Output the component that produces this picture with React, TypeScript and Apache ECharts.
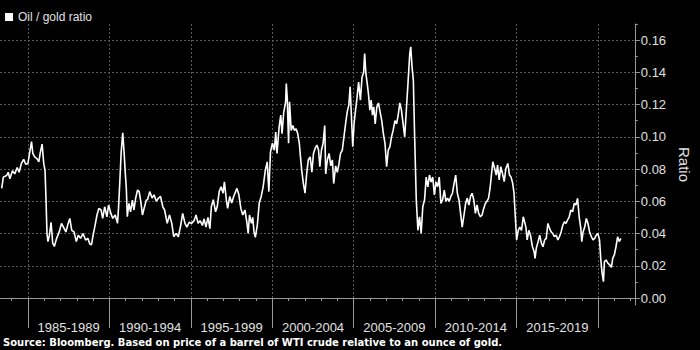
import React, { useEffect, useRef } from "react";
import * as echarts from "echarts";

// Decimal years of each observation
const years: number[] = [
  1983.39, 1983.49, 1983.69, 1983.79, 1983.89, 1984.05, 1984.19, 1984.34, 1984.46, 1984.6, 1984.74, 1984.86,
  1985.0, 1985.1, 1985.22, 1985.3, 1985.41, 1985.55, 1985.67, 1985.75, 1985.87, 1985.97, 1986.05, 1986.11,
  1986.17, 1986.23, 1986.32, 1986.42, 1986.52, 1986.62, 1986.76, 1986.92, 1987.06, 1987.18, 1987.33, 1987.47,
  1987.57, 1987.69, 1987.83, 1987.97, 1988.09, 1988.23, 1988.38, 1988.54, 1988.68, 1988.8, 1988.9, 1989.0,
  1989.1, 1989.24, 1989.35, 1989.49, 1989.59, 1989.71, 1989.85, 1989.95, 1990.09, 1990.21, 1990.36, 1990.5,
  1990.56, 1990.64, 1990.72, 1990.82, 1990.9, 1990.98, 1991.04, 1991.1, 1991.2, 1991.3, 1991.41, 1991.51,
  1991.61, 1991.73, 1991.83, 1991.93, 1992.03, 1992.13, 1992.27, 1992.34, 1992.48, 1992.62, 1992.74, 1992.88,
  1993.02, 1993.14, 1993.28, 1993.39, 1993.55, 1993.69, 1993.83, 1993.95, 1994.09, 1994.23, 1994.36, 1994.5,
  1994.64, 1994.76, 1994.9, 1995.04, 1995.2, 1995.32, 1995.45, 1995.57, 1995.71, 1995.81, 1995.93, 1996.05,
  1996.17, 1996.26, 1996.38, 1996.52, 1996.62, 1996.74, 1996.86, 1996.98, 1997.06, 1997.18, 1997.26, 1997.39,
  1997.51, 1997.63, 1997.75, 1997.83, 1997.95, 1998.07, 1998.19, 1998.32, 1998.44, 1998.52, 1998.6, 1998.72,
  1998.8, 1998.88, 1998.96, 1999.08, 1999.2, 1999.32, 1999.44, 1999.57, 1999.69, 1999.79, 1999.89, 2000.01,
  2000.13, 2000.21, 2000.29, 2000.42, 2000.52, 2000.6, 2000.7, 2000.82, 2000.86, 2000.92, 2001.0, 2001.06,
  2001.16, 2001.26, 2001.36, 2001.46, 2001.56, 2001.66, 2001.73, 2001.81, 2001.91, 2002.01, 2002.11, 2002.21,
  2002.33, 2002.43, 2002.53, 2002.64, 2002.74, 2002.84, 2002.92, 2003.02, 2003.12, 2003.22, 2003.28, 2003.38,
  2003.49, 2003.59, 2003.69, 2003.77, 2003.89, 2003.99, 2004.09, 2004.19, 2004.3, 2004.4, 2004.5, 2004.6,
  2004.7, 2004.78, 2004.86, 2004.94, 2005.02, 2005.1, 2005.2, 2005.3, 2005.41, 2005.51, 2005.61, 2005.67,
  2005.75, 2005.83, 2005.91, 2005.99, 2006.07, 2006.15, 2006.23, 2006.32, 2006.42, 2006.52, 2006.62, 2006.72,
  2006.82, 2006.92, 2007.02, 2007.12, 2007.22, 2007.32, 2007.42, 2007.53, 2007.63, 2007.73, 2007.83, 2007.93,
  2008.03, 2008.13, 2008.23, 2008.33, 2008.44, 2008.5, 2008.58, 2008.66, 2008.74, 2008.84, 2008.94, 2009.04,
  2009.14, 2009.24, 2009.35, 2009.45, 2009.55, 2009.65, 2009.75, 2009.85, 2009.95, 2010.05, 2010.15, 2010.25,
  2010.35, 2010.46, 2010.56, 2010.66, 2010.76, 2010.86, 2010.96, 2011.06, 2011.16, 2011.26, 2011.36, 2011.46,
  2011.56, 2011.66, 2011.77, 2011.87, 2011.97, 2012.07, 2012.17, 2012.27, 2012.37, 2012.47, 2012.57, 2012.67,
  2012.78, 2012.88, 2012.98, 2013.08, 2013.18, 2013.28, 2013.38, 2013.48, 2013.54, 2013.65, 2013.75, 2013.83,
  2013.93, 2014.03, 2014.13, 2014.24, 2014.34, 2014.46, 2014.56, 2014.66, 2014.76, 2014.84, 2014.92, 2015.0,
  2015.1, 2015.2, 2015.3, 2015.41, 2015.57, 2015.65, 2015.75, 2015.85, 2015.97, 2016.07, 2016.13, 2016.21,
  2016.32, 2016.42, 2016.52, 2016.62, 2016.72, 2016.82, 2016.92, 2017.02, 2017.12, 2017.22, 2017.32, 2017.43,
  2017.53, 2017.63, 2017.73, 2017.83, 2017.93, 2018.03, 2018.13, 2018.23, 2018.33, 2018.44, 2018.54, 2018.64,
  2018.74, 2018.84, 2018.94, 2019.0, 2019.08, 2019.18, 2019.28, 2019.38, 2019.48, 2019.59, 2019.69, 2019.79,
  2019.89, 2019.99, 2020.09, 2020.17, 2020.25, 2020.33, 2020.39, 2020.49, 2020.61, 2020.72, 2020.82, 2020.9,
  2021.0, 2021.1, 2021.2, 2021.3, 2021.4,
];

// Oil / gold ratio at each observation
const ratio: number[] = [
  0.068, 0.075, 0.076, 0.078, 0.074, 0.079, 0.077, 0.081, 0.078, 0.0835, 0.086, 0.083,
  0.0835, 0.0897, 0.097, 0.0897, 0.0876, 0.0865, 0.0845, 0.0897, 0.0955, 0.0835, 0.079, 0.061,
  0.04, 0.035, 0.039, 0.047, 0.034, 0.032, 0.037, 0.041, 0.0463, 0.044, 0.041, 0.0463,
  0.0494, 0.042, 0.041, 0.035, 0.039, 0.037, 0.04, 0.036, 0.037, 0.0335, 0.033, 0.039,
  0.044, 0.0515, 0.0556, 0.0546, 0.0494, 0.0566, 0.0504, 0.0577, 0.0525, 0.0494, 0.0515, 0.0463,
  0.0556, 0.072, 0.0897, 0.1025, 0.0907, 0.077, 0.068, 0.0504, 0.0587, 0.0535, 0.0608, 0.0546,
  0.0618, 0.067, 0.066, 0.0597, 0.0515, 0.0556, 0.0608, 0.061, 0.066, 0.062, 0.064, 0.06,
  0.062, 0.063, 0.0566, 0.0546, 0.0463, 0.0515, 0.0463, 0.038, 0.0401, 0.038, 0.044, 0.0525,
  0.0463, 0.044, 0.047, 0.0463, 0.048, 0.0515, 0.0463, 0.048, 0.045, 0.049, 0.044, 0.05,
  0.043, 0.0566, 0.061, 0.0535, 0.0566, 0.066, 0.069, 0.065, 0.072, 0.061, 0.0556, 0.063,
  0.059, 0.063, 0.066, 0.068, 0.064, 0.0556, 0.0515, 0.0546, 0.047, 0.0401, 0.0515, 0.0463,
  0.05, 0.041, 0.0376, 0.045, 0.059, 0.063, 0.069, 0.079, 0.0845, 0.066, 0.0907, 0.096,
  0.0917, 0.103, 0.0897, 0.106, 0.1135, 0.102, 0.115, 0.1217, 0.133, 0.124, 0.096, 0.1217,
  0.104, 0.107, 0.104, 0.105, 0.102, 0.096, 0.0876, 0.079, 0.071, 0.065, 0.077, 0.0856,
  0.0876, 0.078, 0.0897, 0.093, 0.0949, 0.0918, 0.0815, 0.0918, 0.096, 0.107, 0.077, 0.0856,
  0.0897, 0.082, 0.0856, 0.071, 0.082, 0.078, 0.083, 0.0897, 0.0918, 0.1, 0.108, 0.1155,
  0.1197, 0.131, 0.1124, 0.0938, 0.108, 0.1155, 0.124, 0.134, 0.1228, 0.137, 0.14, 0.1517,
  0.139, 0.133, 0.126, 0.1166, 0.1228, 0.1135, 0.1186, 0.108, 0.1186, 0.121, 0.1155, 0.11,
  0.102, 0.096, 0.0815, 0.0918, 0.0938, 0.1, 0.104, 0.11, 0.108, 0.1135, 0.121, 0.1166,
  0.108, 0.1, 0.1166, 0.133, 0.1517, 0.1558, 0.1434, 0.135, 0.1, 0.061, 0.042, 0.0504,
  0.04, 0.0566, 0.061, 0.075, 0.069, 0.0763, 0.072, 0.075, 0.064, 0.072, 0.069, 0.075,
  0.0587, 0.061, 0.067, 0.06, 0.062, 0.06, 0.063, 0.065, 0.071, 0.0763, 0.065, 0.061,
  0.0525, 0.044, 0.0515, 0.0587, 0.062, 0.0577, 0.063, 0.065, 0.061, 0.0525, 0.0577, 0.0525,
  0.0504, 0.0515, 0.0556, 0.0587, 0.06, 0.062, 0.069, 0.079, 0.0845, 0.0804, 0.0763, 0.0825,
  0.0732, 0.0815, 0.0773, 0.0722, 0.0804, 0.0835, 0.0763, 0.075, 0.0711, 0.065, 0.0504, 0.036,
  0.042, 0.044, 0.042, 0.0504, 0.044, 0.036, 0.042, 0.039, 0.0318, 0.029, 0.0246, 0.031,
  0.035, 0.039, 0.034, 0.0318, 0.036, 0.037, 0.0463, 0.0432, 0.041, 0.04, 0.038, 0.039,
  0.036, 0.038, 0.041, 0.045, 0.0473, 0.0463, 0.0484, 0.0504, 0.0546, 0.0535, 0.0587, 0.0577,
  0.0618, 0.0504, 0.0432, 0.035, 0.041, 0.044, 0.0494, 0.0463, 0.041, 0.038, 0.036, 0.037,
  0.039, 0.04, 0.036, 0.0236, 0.0153, 0.0101, 0.0226, 0.0236, 0.0215, 0.0205, 0.019, 0.0246,
  0.0267, 0.0318, 0.038, 0.035, 0.037,
];

const periodStarts: number[] = [1985, 1990, 1995, 2000, 2005, 2010, 2015];
const periodBoundaries: number[] = [1985, 1990, 1995, 2000, 2005, 2010, 2015, 2020];
const yearTicks: number[] = [
  1984, 1985, 1986, 1987, 1988, 1989, 1990, 1991, 1992, 1993, 1994, 1995, 1996, 1997, 1998, 1999, 2000,
  2001, 2002, 2003, 2004, 2005, 2006, 2007, 2008, 2009, 2010, 2011, 2012, 2013, 2014, 2015, 2016, 2017,
  2018, 2019, 2020, 2021, 2022,
];
const yMajorTicks: number[] = [0, 0.02, 0.04, 0.06, 0.08, 0.1, 0.12, 0.14, 0.16];
const yMinorTicks: number[] = [0.01, 0.03, 0.05, 0.07, 0.09, 0.11, 0.13, 0.15, 0.17];

const X_MIN = 1983.285;
const X_MAX = 2022.255;
const Y_MIN = -0.00434;
const Y_MAX = 0.17;

const AXIS_COLOR = "#9a9a9a";
const GRID_COLOR = "#5a5a5a";
const TEXT_COLOR = "#e0e0e0";
const FONT = "'Liberation Sans', Arial, sans-serif";

export default function App() {
  const ref = useRef<HTMLDivElement>(null);

  useEffect(() => {
    if (!ref.current) return;
    const chart = echarts.init(ref.current, null, { renderer: "svg" });
    const labelCenters = periodStarts.map((s) => s + 2.5);
    const option: any = {
      animation: false,
      backgroundColor: "#000000",
      textStyle: { fontFamily: FONT },
      legend: {
        show: true,
        left: 0,
        top: 6,
        icon: "rect",
        itemWidth: 8,
        itemHeight: 8,
        itemGap: 10,
        textStyle: { color: TEXT_COLOR, fontSize: 12, fontFamily: FONT },
        data: ["Oil / gold ratio"],
      },
      grid: { left: 0, right: 57, top: 24, bottom: 45, containLabel: false },
      xAxis: [
        {
          type: "value",
          min: X_MIN,
          max: X_MAX,
          position: "bottom",
          axisLine: { show: true, lineStyle: { color: AXIS_COLOR, width: 1 } },
          axisTick: {
            show: true,
            customValues: periodBoundaries,
            length: 30,
            lineStyle: { color: AXIS_COLOR, width: 1 },
          },
          axisLabel: {
            show: true,
            customValues: labelCenters,
            formatter: (v: number) => `${Math.round(v - 2.5)}-${Math.round(v + 1.5)}`,
            color: TEXT_COLOR,
            fontSize: 13,
            fontFamily: FONT,
            margin: 16,
          },
          splitLine: { show: true, lineStyle: { color: GRID_COLOR, type: [2, 2], width: 1 } },
        },
        {
          type: "value",
          min: X_MIN,
          max: X_MAX,
          position: "bottom",
          axisLine: { show: false },
          axisTick: {
            show: true,
            customValues: yearTicks,
            length: 3,
            lineStyle: { color: AXIS_COLOR, width: 1 },
          },
          axisLabel: { show: false },
          splitLine: { show: false },
        },
      ],
      yAxis: [
        {
          type: "value",
          min: Y_MIN,
          max: Y_MAX,
          position: "right",
          name: "Ratio",
          nameLocation: "middle",
          nameRotate: -90,
          nameGap: 40,
          nameTextStyle: { color: TEXT_COLOR, fontSize: 15, fontFamily: FONT },
          axisLine: { show: true, lineStyle: { color: AXIS_COLOR, width: 1 } },
          axisTick: {
            show: true,
            customValues: yMajorTicks,
            length: 5,
            lineStyle: { color: AXIS_COLOR, width: 1 },
          },
          axisLabel: {
            show: true,
            customValues: yMajorTicks,
            formatter: (v: number) => v.toFixed(2),
            color: TEXT_COLOR,
            fontSize: 13,
            fontFamily: FONT,
            margin: 6,
          },
          splitLine: { show: true, lineStyle: { color: GRID_COLOR, type: [2, 2], width: 1 } },
        },
        {
          type: "value",
          min: Y_MIN,
          max: Y_MAX,
          position: "right",
          axisLine: { show: false },
          axisTick: {
            show: true,
            customValues: yMinorTicks,
            length: 3,
            lineStyle: { color: AXIS_COLOR, width: 1 },
          },
          axisLabel: { show: false },
          splitLine: { show: false },
        },
      ],
      series: [
        {
          name: "Oil / gold ratio",
          type: "line",
          xAxisIndex: 0,
          yAxisIndex: 0,
          showSymbol: false,
          symbol: "none",
          color: "#ffffff",
          lineStyle: { color: "#ffffff", width: 1.6 },
          data: years.map((y, i) => [y, ratio[i]]),
        },
      ],
      graphic: [
        {
          type: "text",
          left: 3,
          top: 337,
          style: {
            text: "Source: Bloomberg. Based on price of a barrel of WTI crude relative to an ounce of gold.",
            fill: "#ffffff",
            font: "bold 10px 'DejaVu Sans', sans-serif",
          },
        },
      ],
    };
    chart.setOption(option);
    return () => chart.dispose();
  }, []);

  return (
    <div
      ref={ref}
      style={{ position: "absolute", left: 0, top: 0, width: 700, height: 350, background: "#000" }}
    />
  );
}
